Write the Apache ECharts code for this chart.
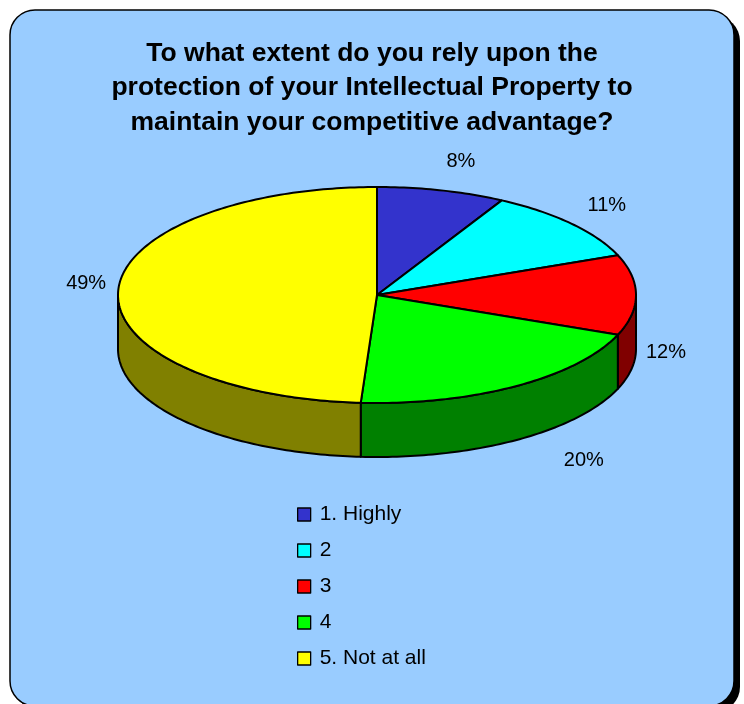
<!DOCTYPE html>
<html>
<head>
<meta charset="utf-8">
<script src="https://cdn.jsdelivr.net/npm/echarts@6/dist/echarts.min.js"></script>
<style>
html,body{margin:0;padding:0;background:#fff;}
#chart{width:744px;height:704px;}
</style>
</head>
<body>
<div id="chart"></div>
<script>
// ---- data ----
const categories = ['1. Highly', '2', '3', '4', '5. Not at all'];
const values = [8, 11, 12, 20, 49];
const percentLabels = ['8%', '11%', '12%', '20%', '49%'];
const titleText = 'To what extent do you rely upon the\nprotection of your Intellectual Property to\nmaintain your competitive advantage?';

// ---- styles ----
const topColors = ['#3333CC', '#00FFFF', '#FF0000', '#00FF00', '#FFFF00'];
const sideColors = ['#1A1A66', '#008080', '#800000', '#008000', '#808000'];
const labelNudge = [[12, 0], [13, 2], [0, 3], [52, -5], [-2, -7]];
const geo = { cx: 377, cy: 295, rx: 259, ry: 108, depth: 54 };
const FONT = '"Liberation Sans", Arial, sans-serif';

const total = values.reduce((a, b) => a + b, 0);
function sliceAngles(i) {
  let before = 0;
  for (let k = 0; k < i; k++) before += values[k];
  const a0 = before / total * Math.PI * 2;
  const a1 = (before + values[i]) / total * Math.PI * 2;
  return [a0, a1];
}
function pt(t, dz) {
  return [geo.cx + geo.rx * Math.sin(t), geo.cy - geo.ry * Math.cos(t) + (dz || 0)];
}
function arcPts(a0, a1, dz) {
  const n = Math.max(2, Math.ceil((a1 - a0) / (Math.PI / 180)));
  const pts = [];
  for (let j = 0; j <= n; j++) pts.push(pt(a0 + (a1 - a0) * j / n, dz));
  return pts;
}

const chart = echarts.init(document.getElementById('chart'), null, { renderer: 'canvas' });

const option = {
  animation: false,
  backgroundColor: '#ffffff',
  graphic: [
    { type: 'rect', z: -10, silent: true,
      shape: { x: 16, y: 16, width: 724, height: 696, r: 25 },
      style: { fill: '#000000' } },
    { type: 'rect', z: -9, silent: true,
      shape: { x: 10, y: 10, width: 724, height: 696, r: 25 },
      style: { fill: '#99CCFF', stroke: '#000000', lineWidth: 1.5 } }
  ],
  title: {
    text: titleText,
    left: 'center',
    top: 36,
    padding: [0, 0, 0, 10],
    textStyle: { fontFamily: FONT, fontWeight: 'bold', fontSize: 26.5, lineHeight: 34.5, color: '#000' }
  },
  legend: {
    data: categories,
    orient: 'vertical',
    left: 292,
    top: 499,
    icon: 'rect',
    itemWidth: 13,
    itemHeight: 13,
    itemGap: 15,
    selectedMode: false,
    itemStyle: { borderColor: '#000', borderWidth: 1.3 },
    textStyle: { fontFamily: FONT, fontSize: 21, lineHeight: 21, color: '#000', padding: [0, 0, 0, 4] }
  },
  series: [
    {
      // invisible pie supplying legend entries
      type: 'pie',
      name: 'legendSource',
      center: [-100, -100],
      radius: 1,
      silent: true,
      label: { show: false },
      labelLine: { show: false },
      data: values.map((v, i) => ({ name: categories[i], value: v, itemStyle: { color: topColors[i] } }))
    },
    {
      // side walls
      type: 'custom',
      name: 'sides',
      coordinateSystem: 'none',
      z: 2,
      silent: true,
      data: values.map((v, i) => ({ name: categories[i], value: v })),
      renderItem: function (params, api) {
        const i = params.dataIndex;
        const [a0, a1] = sliceAngles(i);
        const s = Math.max(a0, Math.PI / 2);
        const e = Math.min(a1, Math.PI * 1.5);
        if (s >= e) return { type: 'group', children: [] };
        const top = arcPts(s, e, 0);
        const bot = arcPts(s, e, geo.depth).reverse();
        return {
          type: 'polygon',
          shape: { points: top.concat(bot) },
          style: { fill: sideColors[i], stroke: '#000', lineWidth: 2, lineJoin: 'round' }
        };
      }
    },
    {
      // top faces and labels
      type: 'custom',
      name: 'tops',
      coordinateSystem: 'none',
      z: 3,
      silent: true,
      data: values.map((v, i) => ({ name: categories[i], value: v })),
      renderItem: function (params, api) {
        const i = params.dataIndex;
        const [a0, a1] = sliceAngles(i);
        const pts = [[geo.cx, geo.cy]].concat(arcPts(a0, a1, 0));
        const mid = (a0 + a1) / 2;
        const front = Math.cos(mid) <= 0.0001 && Math.sin(mid) > -0.5;
        const lx = geo.cx + (geo.rx + 30) * Math.sin(mid) + labelNudge[i][0];
        const ly = geo.cy - (geo.ry + 30) * Math.cos(mid) + (front ? geo.depth : 0) + labelNudge[i][1];
        return {
          type: 'group',
          children: [
            { type: 'polygon', shape: { points: pts },
              style: { fill: topColors[i], stroke: '#000', lineWidth: 2, lineJoin: 'round' } },
            { type: 'text', x: lx, y: ly,
              style: { text: percentLabels[i], fill: '#000', font: '20px ' + FONT,
                       align: 'center', verticalAlign: 'middle' } }
          ]
        };
      }
    }
  ]
};
chart.setOption(option);
</script>
</body>
</html>
